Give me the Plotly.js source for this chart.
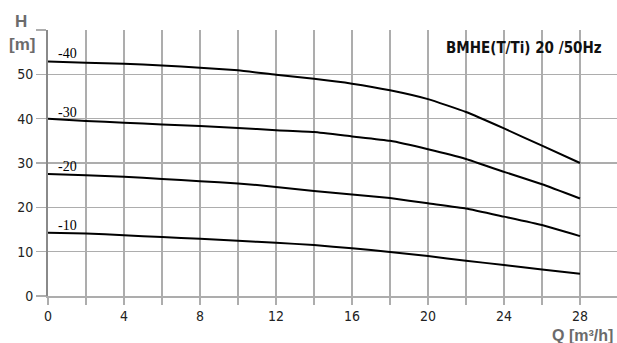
<!DOCTYPE html>
<html>
<head>
<meta charset="utf-8">
<script src="https://cdn.plot.ly/plotly-3.0.1.min.js"></script>
<style>html,body{margin:0;padding:0;background:#fff;}#chart{width:617px;height:343px;}</style>
</head>
<body>
<div id="chart"></div>
<script>
// Flow rate Q [m3/h]
const Q = [0, 2, 4, 6, 8, 10, 12, 14, 16, 18, 20, 22, 24, 26, 28];
// Head H [m] for each pump model
const H40 = [52.9, 52.6, 52.4, 52.0, 51.5, 50.9, 49.9, 49.0, 47.9, 46.4, 44.4, 41.5, 37.8, 33.9, 30.0];
const H30 = [40.0, 39.5, 39.1, 38.7, 38.35, 37.9, 37.4, 37.0, 36.0, 35.0, 33.1, 30.9, 28.0, 25.2, 22.0];
const H20 = [27.5, 27.25, 26.9, 26.4, 25.9, 25.4, 24.6, 23.7, 22.9, 22.1, 20.9, 19.75, 17.9, 16.0, 13.5];
const H10 = [14.25, 14.1, 13.7, 13.3, 12.9, 12.45, 12.0, 11.5, 10.75, 9.95, 9.0, 7.95, 7.0, 6.0, 5.0];
const seriesNames = ["-40", "-30", "-20", "-10"];
const seriesData = [H40, H30, H20, H10];
const labelH = [54.6, 41.4, 29.3, 16.0];

const xTickVals = [0, 2, 4, 6, 8, 10, 12, 14, 16, 18, 20, 22, 24, 26, 28];
const xTickText = ["0", "", "4", "", "8", "", "12", "", "16", "", "20", "", "24", "", "28"];
const yTickVals = [0, 10, 20, 30, 40, 50, 60];
const yTickText = ["0", "10", "20", "30", "40", "50", ""];

const titleText = "BMHE(T/Ti) 20 /50Hz";

const narrow = "Liberation Sans Narrow, Arial Narrow, DejaVu Sans Condensed, Roboto Condensed, sans-serif";

const traces = seriesData.map((h, i) => ({
  x: Q, y: h, type: "scatter", mode: "lines", name: seriesNames[i],
  line: {color: "#000", width: 2, shape: "spline", smoothing: 0.4},
  hoverinfo: "skip", showlegend: false
}));

const annotations = seriesNames.map((n, i) => ({
  x: 0.4, y: labelH[i], xref: "x", yref: "y", text: n, showarrow: false,
  xanchor: "left", yanchor: "middle",
  font: {family: "Liberation Serif, Times New Roman, serif", size: 14, color: "#000"}
}));
annotations.push({
  xref: "paper", yref: "paper", x: 0.978, y: 0.932, text: titleText, showarrow: false,
  xanchor: "right", yanchor: "middle",
  font: {family: narrow, size: 15, color: "#111", weight: "bold"}
});
annotations.push({
  xref: "paper", yref: "paper", x: -0.047, y: (296 - 21) / 266, text: "<b>H</b>", showarrow: false,
  xanchor: "center", yanchor: "middle",
  font: {family: "Liberation Sans, Arial, sans-serif", size: 17, color: "#6b6b6b"}
});
annotations.push({
  xref: "paper", yref: "paper", x: -0.046, y: (296 - 44) / 266, text: "<b>[m]</b>", showarrow: false,
  xanchor: "center", yanchor: "middle",
  font: {family: "Liberation Sans, Arial, sans-serif", size: 17, color: "#6b6b6b"}
});
annotations.push({
  xref: "paper", yref: "paper", x: (615 - 48) / 569, y: (296 - 335) / 266, text: "<b>Q [m³/h]</b>", showarrow: false,
  xanchor: "right", yanchor: "middle",
  font: {family: "Liberation Sans, Arial, sans-serif", size: 16, color: "#6b6b6b"}
});

const layout = {
  width: 617, height: 343,
  margin: {l: 48, r: 0, t: 30, b: 47},
  paper_bgcolor: "#fff", plot_bgcolor: "#fff",
  showlegend: false,
  xaxis: {
    range: [0, 569 / 19], tickmode: "array", tickvals: xTickVals, ticktext: xTickText,
    showgrid: true, gridcolor: "#adadad", gridwidth: 1.5,
    ticks: "outside", ticklen: 7, tickcolor: "#adadad", tickwidth: 1.5,
    showline: true, linecolor: "#adadad", linewidth: 1.5,
    zeroline: false,
    tickfont: {family: narrow, size: 14, color: "#222"}
  },
  yaxis: {
    range: [0, 60], tickmode: "array", tickvals: yTickVals, ticktext: yTickText,
    showgrid: true, gridcolor: "#adadad", gridwidth: 1.5,
    ticks: "outside", ticklen: 10, tickcolor: "#adadad", tickwidth: 1.5,
    showline: true, linecolor: "#8a8a8a", linewidth: 2,
    zeroline: false,
    tickfont: {family: narrow, size: 14, color: "#222"}
  },
  annotations: annotations
};

Plotly.newPlot("chart", traces, layout, {staticPlot: true, displayModeBar: false});
</script>
</body>
</html>
